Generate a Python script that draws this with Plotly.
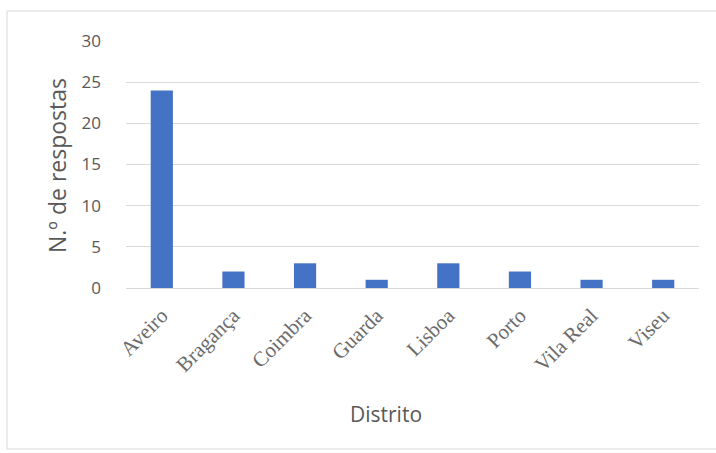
import plotly.graph_objects as go

distritos = ["Aveiro", "Bragança", "Coimbra", "Guarda", "Lisboa", "Porto", "Vila Real", "Viseu"]
respostas = [24, 2, 3, 1, 3, 2, 1, 1]
y_ticks = [0, 5, 10, 15, 20, 25, 30]

W, H = 716, 453
ml, mr, mt, mb = 126, 17, 41, 165
pw = W - ml - mr
ph = H - mt - mb

def px_x(x):
    return (x - ml) / pw

def px_y(y):
    return (H - mb - y) / ph

fig = go.Figure(go.Bar(
    x=distritos, y=respostas,
    marker=dict(color="#4472C4", line=dict(width=0)),
    width=0.31,
))

fig.update_layout(
    width=W, height=H,
    margin=dict(l=ml, r=mr, t=mt, b=mb),
    paper_bgcolor="white", plot_bgcolor="white",
    showlegend=False,
    xaxis=dict(
        tickangle=-45,
        tickfont=dict(family="Liberation Serif", size=21, color="#6b6b6b"),
        showgrid=False, zeroline=False,
        showline=True, linecolor="#d9d9d9", linewidth=1,
        ticks="", ticklabelstandoff=6,
    ),
    yaxis=dict(
        range=[0, 30], tickvals=y_ticks,
        tickfont=dict(family="Open Sans", size=17, color="#595959"),
        showgrid=True, gridcolor="#d9d9d9", gridwidth=1,
        zeroline=False, showline=False, ticks="",
        ticklabelstandoff=24,
    ),
)

fig.add_annotation(text="N.º de respostas", xref="paper", yref="paper",
                   x=px_x(57), y=px_y(166), textangle=-90, showarrow=False,
                   xanchor="center", yanchor="middle",
                   font=dict(family="Open Sans", size=23, color="#595959"))
fig.add_annotation(text="Distrito", xref="paper", yref="paper",
                   x=px_x(386), y=px_y(414), showarrow=False,
                   xanchor="center", yanchor="middle",
                   font=dict(family="Open Sans", size=21, color="#595959"))

# outer chart border (light gray)
fig.add_shape(type="rect", xref="paper", yref="paper",
              x0=px_x(7), x1=px_x(W + 5), y0=px_y(449), y1=px_y(11),
              line=dict(color="#d9d9d9", width=1), layer="below")

fig.write_html("out.html")
